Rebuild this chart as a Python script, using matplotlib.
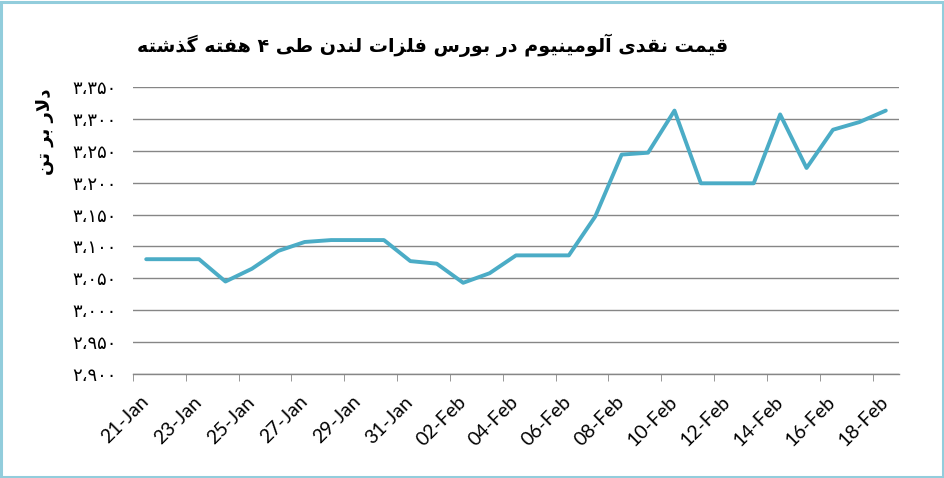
import matplotlib
matplotlib.use("Agg")
import matplotlib.pyplot as plt
from matplotlib.patches import Rectangle

# LME aluminium cash price, 21 Jan - 18 Feb (daily)
day_labels = ["21-Jan", "23-Jan", "25-Jan", "27-Jan", "29-Jan", "31-Jan",
              "02-Feb", "04-Feb", "06-Feb", "08-Feb", "10-Feb", "12-Feb",
              "14-Feb", "16-Feb", "18-Feb"]
prices = [3080, 3080, 3080, 3045, 3065, 3093, 3107, 3110, 3110, 3110,
          3077, 3073, 3043, 3058, 3086, 3086, 3086, 3147, 3244, 3247,
          3313, 3199, 3199, 3199, 3307, 3223, 3283, 3295, 3313]
y_ticks = [2900, 2950, 3000, 3050, 3100, 3150, 3200, 3250, 3300, 3350]

title_text = "قیمت نقدی آلومینیوم در بورس فلزات لندن طی ۴ هفته گذشته"
ylabel_text = "دلار بر تن"

# matplotlib has no arabic shaping, so pick contextual forms by hand
DUAL = {
    'ب': (0xFE8F, 0xFE90, 0xFE91, 0xFE92), 'ت': (0xFE95, 0xFE96, 0xFE97, 0xFE98),
    'س': (0xFEB1, 0xFEB2, 0xFEB3, 0xFEB4), 'ش': (0xFEB5, 0xFEB6, 0xFEB7, 0xFEB8),
    'ط': (0xFEC1, 0xFEC2, 0xFEC3, 0xFEC4), 'ف': (0xFED1, 0xFED2, 0xFED3, 0xFED4),
    'ق': (0xFED5, 0xFED6, 0xFED7, 0xFED8), 'ل': (0xFEDD, 0xFEDE, 0xFEDF, 0xFEE0),
    'م': (0xFEE1, 0xFEE2, 0xFEE3, 0xFEE4), 'ن': (0xFEE5, 0xFEE6, 0xFEE7, 0xFEE8),
    'ه': (0xFEE9, 0xFEEA, 0xFEEB, 0xFEEC), 'ی': (0xFBFC, 0xFBFD, 0xFBFE, 0xFBFF),
    'گ': (0xFB92, 0xFB93, 0xFB94, 0xFB95),
}
RIGHT = {
    'ا': (0xFE8D, 0xFE8E), 'آ': (0xFE81, 0xFE82), 'د': (0xFEA9, 0xFEAA),
    'ذ': (0xFEAB, 0xFEAC), 'ر': (0xFEAD, 0xFEAE), 'ز': (0xFEAF, 0xFEB0),
    'و': (0xFEED, 0xFEEE),
}
LAM_ALEF = {'ا': (0xFEFB, 0xFEFC), 'آ': (0xFEF5, 0xFEF6)}


def shape_rtl(text):
    out = []
    i = 0
    n = len(text)
    while i < n:
        c = text[i]
        prev = text[i - 1] if i > 0 else ''
        nxt = text[i + 1] if i + 1 < n else ''
        from_prev = prev in DUAL
        if c == 'ل' and nxt in LAM_ALEF:
            iso, fin = LAM_ALEF[nxt]
            out.append(chr(fin if from_prev else iso))
            i += 2
            continue
        if c in DUAL:
            iso, fin, ini, med = DUAL[c]
            to_next = nxt in DUAL or nxt in RIGHT
            if from_prev and to_next:
                out.append(chr(med))
            elif from_prev:
                out.append(chr(fin))
            elif to_next:
                out.append(chr(ini))
            else:
                out.append(chr(iso))
        elif c in RIGHT:
            iso, fin = RIGHT[c]
            out.append(chr(fin if from_prev else iso))
        else:
            out.append(c)
        i += 1
    return ''.join(reversed(out))


def fa_number(v):
    s = f"{v:,}"
    return s.translate(str.maketrans("0123456789,", "۰۱۲۳۴۵۶۷۸۹،"))


line_color = "#4BACC6"
grid_color = "#868686"

fig = plt.figure(figsize=(9.45, 4.78), dpi=100)
ax = fig.add_axes([133 / 945, 1 - 374 / 478, (899 - 133) / 945, (374 - 87) / 478])

days = list(range(len(prices)))
ax.plot(days, prices, color=line_color, linewidth=2.8,
        solid_joinstyle="round", solid_capstyle="round", clip_on=False)

ax.set_xlim(-0.5, len(prices) - 0.5)
ax.set_ylim(y_ticks[0], y_ticks[-1])

ax.set_yticks(y_ticks)
ax.set_yticklabels([fa_number(v) for v in y_ticks], family="DejaVu Sans", fontsize=13)
ax.tick_params(axis="y", length=0, pad=12)
ax.yaxis.grid(True, color=grid_color, linewidth=1)
ax.set_axisbelow(True)

ax.set_xticks(days[::2])
ax.set_xticklabels(day_labels, rotation=45, ha="right", va="center",
                   rotation_mode="anchor", family="Lato", fontsize=14)
ax.tick_params(axis="x", which="major", length=0, pad=18)
ax.set_xticks([d - 0.5 for d in days[::2]], minor=True)
ax.tick_params(axis="x", which="minor", length=5, color=grid_color, direction="out")

for side in ["left", "right", "top"]:
    ax.spines[side].set_visible(False)
ax.spines["bottom"].set_color(grid_color)
ax.spines["bottom"].set_linewidth(1)

fig.text(433 / 945, 1 - 45 / 478, shape_rtl(title_text), ha="center", va="center",
         family="DejaVu Sans", fontweight="bold", fontsize=13.8)
fig.text(45 / 945, 1 - 132 / 478, shape_rtl(ylabel_text), ha="center", va="center",
         rotation=90, family="DejaVu Sans", fontweight="bold", fontsize=13)

# light blue chart frame
fig.patches.append(Rectangle((1.5 / 945, 1.5 / 478), 1 - 3 / 945, 1 - 3 / 478,
                             transform=fig.transFigure, fill=False,
                             edgecolor="#92CDDC", linewidth=2.2))

fig.savefig("out.png", dpi=100)
